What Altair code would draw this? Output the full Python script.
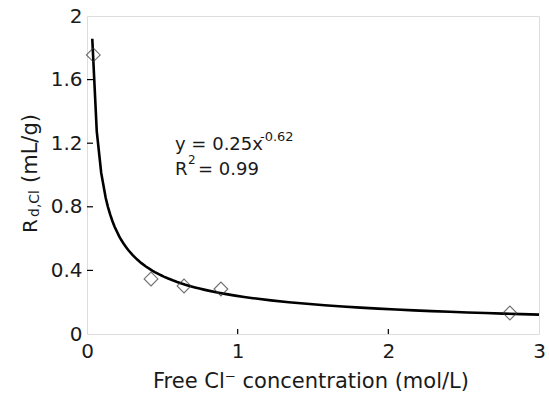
import altair as alt
import pandas as pd

# Data
free_cl = [0.042, 0.425, 0.644, 0.889, 2.807]
rd_cl = [1.755, 0.346, 0.302, 0.283, 0.132]
x_ticks = [0, 1, 2, 3]
y_ticks = [0, 0.4, 0.8, 1.2, 1.6, 2]
x_inner_ticks = [1, 2]
y_inner_ticks = [0.4, 0.8, 1.2, 1.6]
fit_extent = [0.035, 3]

FONT = "DejaVu Sans"
W, H = 452, 318

df = pd.DataFrame({"x": free_cl, "y": rd_cl})

xscale = alt.Scale(domain=[0, 3], nice=False, zero=False)
yscale = alt.Scale(domain=[0, 2], nice=False, zero=False)

xaxis = alt.Axis(values=x_ticks, format="~g", title=None, grid=False, domain=False,
                 ticks=False, tickSize=0, labelPadding=7, labelFontSize=20,
                 labelFont=FONT, labelColor="#1a1a1a", labelFlush=False)
yaxis = alt.Axis(values=y_ticks, format="~g", title=None, grid=False, domain=False,
                 ticks=False, tickSize=0, labelPadding=5, labelFontSize=20,
                 labelFont=FONT, labelColor="#1a1a1a", labelFlush=False)

points = alt.Chart(df).mark_point(shape="diamond", filled=False, size=190,
                                  stroke="#333333", strokeWidth=1.1).encode(
    x=alt.X("x:Q", scale=xscale, axis=xaxis),
    y=alt.Y("y:Q", scale=yscale, axis=yaxis),
)

fit = alt.Chart(df).transform_regression(
    "x", "y", method="pow", extent=fit_extent
).mark_line(color="black", strokeWidth=2.6).encode(
    x=alt.X("x:Q", scale=xscale),
    y=alt.Y("y:Q", scale=yscale),
)

xt = alt.Chart(pd.DataFrame({"t": x_inner_ticks})).mark_rule(color="black", strokeWidth=1.2).encode(
    x=alt.X("t:Q", scale=xscale), y=alt.value(H), y2=alt.value(H - 5))
yt = alt.Chart(pd.DataFrame({"t": y_inner_ticks})).mark_rule(color="black", strokeWidth=1.2).encode(
    y=alt.Y("t:Q", scale=yscale), x=alt.value(0), x2=alt.value(6))

def txt(s, x, y, size, angle=0, align="left", baseline="alphabetic"):
    kw = dict(text=s, font=FONT, fontSize=size, align=align, baseline=baseline,
              color="#1a1a1a")
    if angle:
        kw["angle"] = angle
    return alt.Chart(pd.DataFrame({"a": [0]})).mark_text(**kw).encode(
        x=alt.value(x), y=alt.value(y))

# annotation
ann = [
    txt("y = 0.25x", 88, 134, 18),
    txt("-0.62", 173, 125, 13),
    txt("R", 88, 159, 18),
    txt("2", 101, 148, 12),
    txt("= 0.99", 111, 159, 18),
]
# x title
xtitle = txt("Free Cl\u207b concentration (mol/L)", 224, 372, 21, align="center")
# y title (rotated)
ytitle = [
    txt("R", -50, 217, 20, angle=270),
    txt("d,Cl", -48, 201, 14, angle=270),
    txt("(mL/g)", -50, 167, 21, angle=270),
]

chart = alt.layer(fit, points, xt, yt, *ann, xtitle, *ytitle).properties(
    width=W, height=H,
    autosize=alt.AutoSizeParams(type="none"),
    padding={"left": 87, "top": 16, "right": 10, "bottom": 63},
).configure_view(stroke="black", strokeWidth=1.4).configure(background="white")

chart.save("out.html", embed_options={"renderer": "svg", "actions": False})
